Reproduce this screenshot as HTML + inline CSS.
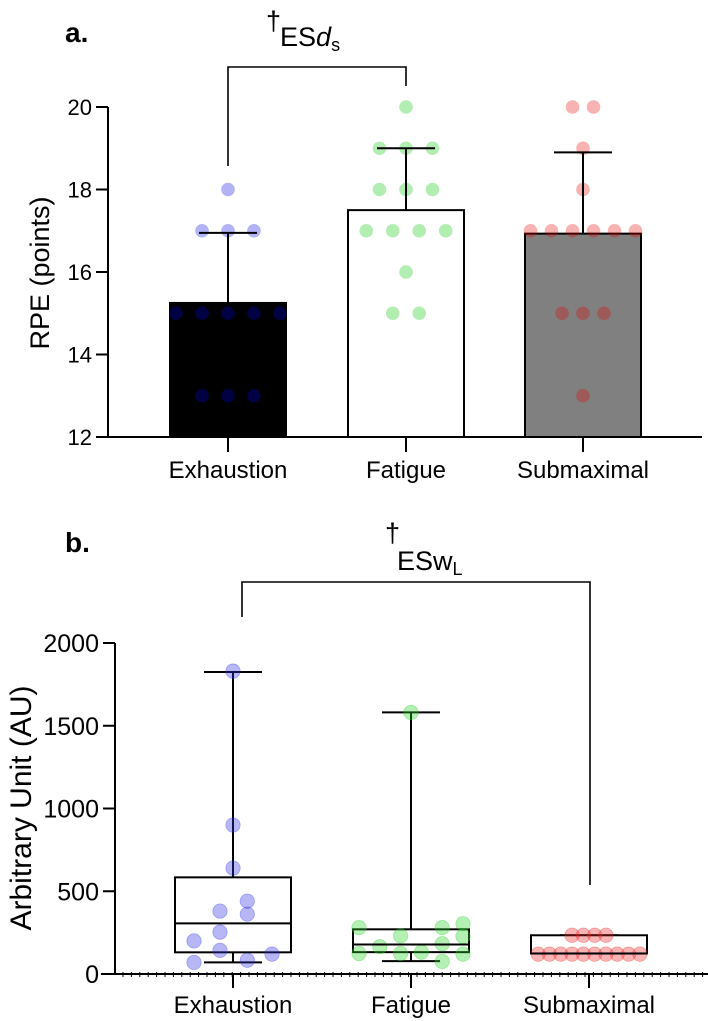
<!DOCTYPE html>
<html><head><meta charset="utf-8"><style>
html,body{margin:0;padding:0;background:#fff;}
svg{display:block;font-family:"Liberation Sans",Arial,sans-serif;}
</style></head><body>
<svg id="chart" width="708" height="1021" viewBox="0 0 708 1021">
<g id="pa"></g>
<g id="pb"></g>
</svg>
<script>
// ---------- Panel a data ----------
const catsA = ["Exhaustion","Fatigue","Submaximal"];
const meansA = [15.25, 17.5, 16.93];
const sdTopA = [16.95, 19.0, 18.9];
const ticksA = [12,14,16,18,20];
const ptsExhA = [[18,0],[17,-1],[17,0],[17,1],[15,-2],[15,-1],[15,0],[15,1],[15,2],[13,-1],[13,0],[13,1]];
const ptsFatA = [[20,0],[19,-1],[19,0],[19,1],[18,-1],[18,0],[18,1],[17,-1.5],[17,-0.5],[17,0.5],[17,1.5],[16,0],[15,-0.5],[15,0.5]];
const ptsSubA = [[20,-0.5],[20,0.5],[19,0],[18,0],[17,-2.5],[17,-1.5],[17,-0.5],[17,0.5],[17,1.5],[17,2.5],[15,-1],[15,0],[15,1],[13,0]];
// ---------- Panel b data ----------
const catsB = ["Exhaustion","Fatigue","Submaximal"];
const boxMinB = [70, 78, 124];
const boxQ1B = [131, 132, 124];
const boxMedB = [306, 178, 124];
const boxQ3B = [584, 270, 234];
const boxMaxB = [1825, 1581, 234];
const ticksB = [0,500,1000,1500,2000];
const ptsExhB = [[1830,0],[900,0],[640,0],[440,0.55],[380,-0.5],[362,0.55],[253,-0.5],[200,-1.5],[143,-0.5],[120,1.5],[70,-1.5],[83,0.55]];
const ptsFatB = [[1580,0],[280,-2],[304,2],[280,1.2],[230,-0.4],[227,2],[165,-1.2],[183,1.2],[124,-2],[124,-0.4],[132,0.4],[120,2],[76,1.2]];
const ptsSubB = [[234,-1.5],[234,-0.5],[234,0.5],[234,1.5],[120,-4.5],[120,-3.5],[120,-2.5],[120,-1.5],[120,-0.5],[120,0.5],[120,1.5],[120,2.5],[120,3.5],[120,4.5]];

const NS="http://www.w3.org/2000/svg";
function mk(parent,tag,attrs,txt){const e=document.createElementNS(NS,tag);for(const k in attrs)e.setAttribute(k,attrs[k]);if(txt!==undefined)e.textContent=txt;parent.appendChild(e);return e;}

// ----- Panel A -----
(function(){
 const g=document.getElementById('pa');
 const yA=v=>437-(v-12)*(330/8);
 const xA=i=>[228,406,583][i];
 const barFill=["#000","#fff","#808080"];
 const t=mk(g,'text',{x:65,y:42,'font-size':28,'font-weight':'bold'},'a.');
 
 const at=mk(g,'text',{x:266,y:30,'font-size':27},'†');
 
 const es=mk(g,'text',{x:280,y:46,'font-size':27});
 
 es.innerHTML='ES<tspan font-style="italic">d</tspan><tspan font-size="18" dy="5">s</tspan>';
 const br=mk(g,'polyline',{points:`${xA(0)},166 ${xA(0)},67 ${xA(1)},67 ${xA(1)},86`,fill:'none',stroke:'#000','stroke-width':1.6});
 
 for(let i=0;i<3;i++){
  const b=mk(g,'rect',{x:xA(i)-58,y:yA(meansA[i]),width:116,height:yA(12)-yA(meansA[i]),fill:barFill[i],stroke:'#000','stroke-width':2});
  
 }
 const sets=[[ptsExhA,26,'rgba(0,0,220,0.3)'],[ptsFatA,26.5,'rgba(0,200,0,0.3)'],[ptsSubA,21,'rgba(230,0,0,0.3)']];
 sets.forEach((s,i)=>{s[0].forEach(p=>{
  const c=mk(g,'ellipse',{cx:xA(i)+p[1]*s[1],cy:yA(p[0]),rx:6.8,ry:6.8,fill:s[2]});
  
 });});
 for(let i=0;i<3;i++){
  const e=mk(g,'path',{d:`M${xA(i)},${yA(meansA[i])}V${yA(sdTopA[i])}M${xA(i)-29},${yA(sdTopA[i])}H${xA(i)+29}`,stroke:'#000','stroke-width':2,fill:'none'});
  
 }
 const ax=mk(g,'path',{d:`M108,${yA(20)}V${yA(12)}M97,${yA(12)}H702`,stroke:'#000','stroke-width':2,fill:'none'});
 
 ticksA.forEach(v=>{
  mk(g,'line',{x1:96,x2:108,y1:yA(v),y2:yA(v),stroke:'#000','stroke-width':2});
  const l=mk(g,'text',{x:92,y:yA(v)+8,'font-size':22,'text-anchor':'end'},v);
  
 });
 catsA.forEach((c,i)=>{
  mk(g,'line',{x1:xA(i),x2:xA(i),y1:437,y2:452,stroke:'#000','stroke-width':2});
  const l=mk(g,'text',{x:xA(i),y:478,'font-size':24,'text-anchor':'middle'},c);
  
 });
 const yt=mk(g,'text',{x:0,y:0,'font-size':27,'text-anchor':'middle',transform:'translate(49,273) rotate(-90)'},'RPE (points)');
 
})();

// ----- Panel B -----
(function(){
 const g=document.getElementById('pb');
 const yB=v=>974-v*(331/2000);
 const xB=i=>[233,411,589][i];
 const t=mk(g,'text',{x:65,y:552,'font-size':28,'font-weight':'bold'},'b.');
 
 const at=mk(g,'text',{x:385,y:542,'font-size':27},'†');
 
 const es=mk(g,'text',{x:397,y:570,'font-size':27});
 
 es.innerHTML='ESw<tspan font-size="18" dy="5">L</tspan>';
 const br=mk(g,'polyline',{points:`242,617 242,582 590,582 590,885`,fill:'none',stroke:'#000','stroke-width':1.6});
 
 for(let i=0;i<3;i++){
  const x=xB(i);
  const w=mk(g,'path',{d:`M${x},${yB(boxQ3B[i])}V${yB(boxMaxB[i])}M${x-29},${yB(boxMaxB[i])}H${x+29}M${x},${yB(boxQ1B[i])}V${yB(boxMinB[i])}M${x-29},${yB(boxMinB[i])}H${x+29}`,stroke:'#000','stroke-width':2,fill:'none'});
  
  const b=mk(g,'rect',{x:x-58,y:yB(boxQ3B[i]),width:116,height:yB(boxQ1B[i])-yB(boxQ3B[i]),fill:'#fff',stroke:'#000','stroke-width':2});
  
 }
 const sets=[[ptsExhB,26,'rgba(50,50,230,0.35)'],[ptsFatB,26,'rgba(40,210,40,0.35)'],[ptsSubB,11.3,'rgba(235,40,40,0.35)']];
 sets.forEach((s,i)=>{s[0].forEach(p=>{
  const c=mk(g,'circle',{cx:xB(i)+p[1]*s[1],cy:yB(p[0]),r:7.2,fill:s[2],stroke:s[2],'stroke-width':0.8});
  
 });});
 for(let i=0;i<3;i++){
  const m=mk(g,'line',{x1:xB(i)-58,x2:xB(i)+58,y1:yB(boxMedB[i]),y2:yB(boxMedB[i]),stroke:'#000','stroke-width':2});
  
 }
 const ax=mk(g,'path',{d:`M115,${yB(2000)}V${yB(0)}M101,${yB(0)}H708`,stroke:'#000','stroke-width':2,fill:'none'});
 
 let d='';for(let x=123;x<708;x+=8.4)d+=`M${x.toFixed(1)},972v5`;
 mk(g,'path',{d:d,stroke:'#000','stroke-width':1});
 ticksB.forEach(v=>{
  mk(g,'line',{x1:103,x2:115,y1:yB(v),y2:yB(v),stroke:'#000','stroke-width':2});
  const l=mk(g,'text',{x:99,y:yB(v)+9,'font-size':25,'text-anchor':'end'},v);
  
 });
 catsB.forEach((c,i)=>{
  mk(g,'line',{x1:xB(i),x2:xB(i),y1:974,y2:988,stroke:'#000','stroke-width':2});
  const l=mk(g,'text',{x:xB(i),y:1013,'font-size':24,'text-anchor':'middle'},c);
  
 });
 const yt=mk(g,'text',{x:0,y:0,'font-size':30,'text-anchor':'middle',transform:'translate(31,808) rotate(-90)'},'Arbitrary Unit (AU)');
 
})();
</script>
</body></html>
